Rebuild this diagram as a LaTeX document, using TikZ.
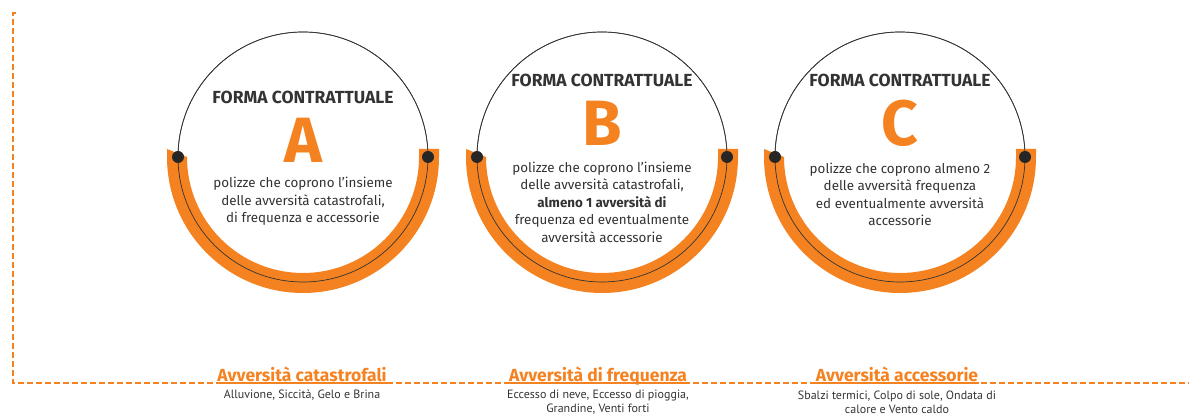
\documentclass[tikz,border=0pt]{standalone}
\usepackage{fontspec}
\setmainfont{Fira Sans}
\newfontfamily\stretto{PT Sans}
\definecolor{arancio}{HTML}{F58220}
\definecolor{grigio}{HTML}{333333}

\begin{document}
\begin{tikzpicture}[x=1pt,y=1pt,
    forma/.style ={circle, draw=black!80, line width=0.7pt, minimum size=250pt, inner sep=0pt, outer sep=0pt},
    punto/.style ={circle, fill=black!85, minimum size=12pt, inner sep=0pt},
    banda/.style ={fill=arancio},
    titolo/.style ={font=\bfseries\fontsize{17.5}{20}\selectfont, text=grigio},
    lettera/.style ={font=\bfseries\fontsize{64}{64}\selectfont, text=arancio},
    testo/.style ={align=center, font=\fontsize{13.4}{17.5}\selectfont, text=grigio},
    avversita/.style ={font=\bfseries\fontsize{17.5}{20}\selectfont, text=arancio, text depth=0pt, inner sep=1pt},
    elenco/.style ={align=center, font=\stretto\fontsize{12}{14}\selectfont, text=grigio},
    cornice/.style ={draw=arancio, line width=1.3pt, dash pattern=on 6pt off 3pt}]
   \useasboundingbox (0,0) rectangle (1189,417);
   % cerchi
   \node[forma] (A) at (303,260) {};
   \node[forma] (B) at (602,260) {};
   \node[forma] (C) at (900,260) {};
   \fill[banda] ([shift={(-136pt,8pt)}]A.center) -- ++(0,-8pt) arc[start angle=180, end angle=360, radius=136pt] -- ++(0,8pt) -- ++(-20pt,0) -- ++(0,-8pt) arc[start angle=0, end angle=-180, radius=116pt] -- cycle;
   \fill[banda] ([shift={(-136pt,8pt)}]B.center) -- ++(0,-8pt) arc[start angle=180, end angle=360, radius=136pt] -- ++(0,8pt) -- ++(-20pt,0) -- ++(0,-8pt) arc[start angle=0, end angle=-180, radius=116pt] -- cycle;
   \fill[banda] ([shift={(-136pt,8pt)}]C.center) -- ++(0,-8pt) arc[start angle=180, end angle=360, radius=136pt] -- ++(0,8pt) -- ++(-20pt,0) -- ++(0,-8pt) arc[start angle=0, end angle=-180, radius=116pt] -- cycle;
   \draw[black!80, line width=0.7pt] (A) circle[radius=125pt];
   \draw[black!80, line width=0.7pt] (B) circle[radius=125pt];
   \draw[black!80, line width=0.7pt] (C) circle[radius=125pt];
   \node[punto] at (A.west) {};
   \node[punto] at (A.east) {};
   \node[punto] at (B.west) {};
   \node[punto] at (B.east) {};
   \node[punto] at (C.west) {};
   \node[punto] at (C.east) {};
   % testi nei cerchi
   \node[titolo] (tA) at (303,320) {FORMA CONTRATTUALE};
   \node[titolo] (tB) at (602,337) {FORMA CONTRATTUALE};
   \node[titolo] (tC) at (900,337) {FORMA CONTRATTUALE};
   \node[lettera] (lA) at (303,277) {A};
   \node[lettera] (lB) at (602,294) {B};
   \node[lettera] (lC) at (900,294) {C};
   \node[testo] (dA) at (303,215.5) {polizze che coprono l’insieme\\delle avversità catastrofali,\\di frequenza e accessorie};
   \node[testo] (dB) at (602,215) {polizze che coprono l’insieme\\delle avversità catastrofali,\\\textbf{almeno 1 avversità di}\\frequenza ed eventualmente\\avversità accessorie};
   \node[testo] (dC) at (900,222.5) {polizze che coprono almeno 2\\delle avversità frequenza\\ed eventualmente avversità\\accessorie};
   % cornice tratteggiata
   \coordinate (inizio) at (13,404);
   \coordinate (angolo) at (13,34);
   \coordinate (fine) at (1189,34);
   \draw[cornice] (16,404) -- (inizio) -- (angolo) -- (fine);
   % avversita
   \node[avversita, anchor=south] (av1) at (302,34) {Avversità catastrofali};
   \node[avversita, anchor=south] (av2) at (598,34) {Avversità di frequenza};
   \node[avversita, anchor=south] (av3) at (897,34) {Avversità accessorie};
   \draw[arancio, line width=1.3pt] (av1.south west) -- (av1.south east);
   \draw[arancio, line width=1.3pt] (av2.south west) -- (av2.south east);
   \draw[arancio, line width=1.3pt] (av3.south west) -- (av3.south east);
   \node[elenco] (el1) at (302,22) {Alluvione, Siccità, Gelo e Brina};
   \node[elenco] (el2) at (598,15) {Eccesso di neve, Eccesso di pioggia,\\Grandine, Venti forti};
   \node[elenco] (el3) at (897,15) {Sbalzi termici, Colpo di sole, Ondata di\\calore e Vento caldo};
 \end{tikzpicture}
\end{document}
